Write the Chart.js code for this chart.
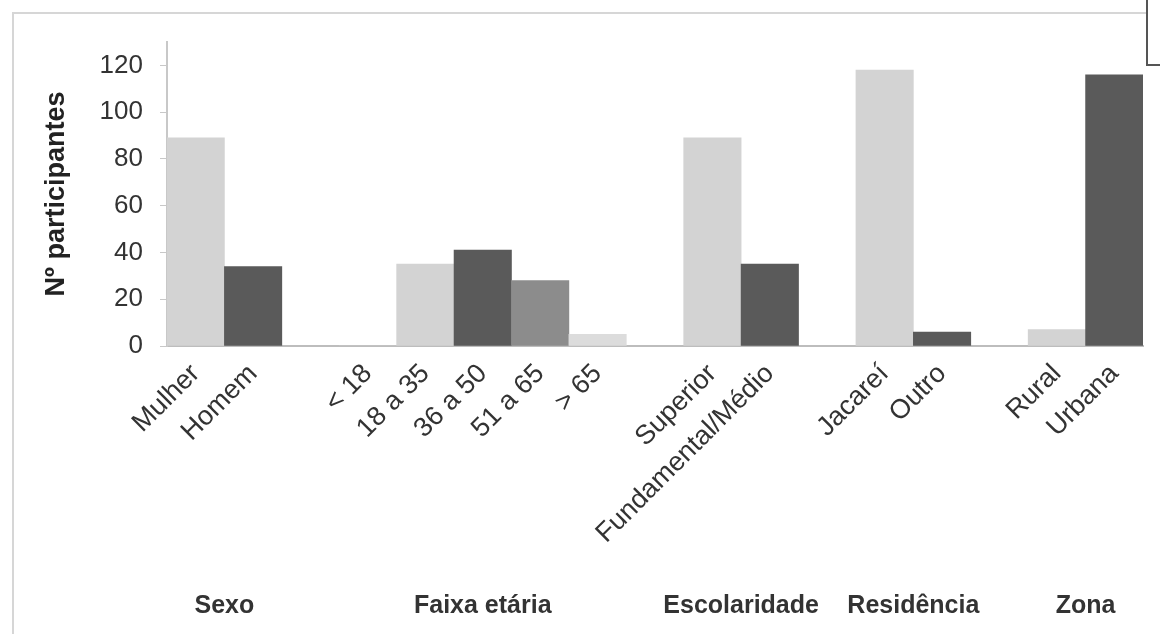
<!DOCTYPE html>
<html lang="pt-BR">
<head>
  <meta charset="UTF-8" />
  <title>Perfil dos participantes</title>
  <script src="https://cdn.jsdelivr.net/npm/chart.js"></script>
  <style>
    body {
      margin: 0;
      background: #fff;
      overflow: hidden;
    }

    #moldura {
      position: absolute;
      left: 12px;
      top: 12px;
      width: 1200px;
      height: 700px;
      border: 2px solid #d6d6d6; /* borda cinza clara do gráfico */
    }

    #legenda {
      position: absolute;
      left: 1146px;
      top: -4px;
      width: 40px;
      height: 66px;
      border: 2px solid #555;
      background: #fff;
    }

    #grafico {
      position: absolute;
      left: 0;
      top: 0;
    }
  </style>
</head>
<body>
  <div id="moldura"></div>
  <div id="legenda"></div>
  <canvas id="grafico" width="1160" height="634"></canvas>

  <script>
    // categorias (vazias = espaço entre grupos)
    const categorias = ['Mulher', 'Homem', '',
      '< 18', '18 a 35', '36 a 50', '51 a 65', '> 65', '',
      'Superior', 'Fundamental/Médio', '',
      'Jacareí', 'Outro', '',
      'Rural', 'Urbana'];
    const participantes = [89, 34, null,
      0, 35, 41, 28, 5, null,
      89, 35, null,
      118, 6, null,
      7, 116];
    const grupos = ['Sexo', 'Faixa etária', 'Escolaridade', 'Residência', 'Zona'];
    const grupoDe = [0, 0, null, 1, 1, 1, 1, 1, null, 2, 2, null, 3, 3, null, 4, 4];
    const ticksY = [0, 20, 40, 60, 80, 100, 120];

    const claro = '#d3d3d3';
    const escuro = '#5a5a5a';
    const medio = '#8c8c8c';
    const cores = [claro, escuro, claro,
      claro, claro, escuro, medio, '#dcdcdc', claro,
      claro, escuro, claro,
      claro, escuro, claro,
      claro, escuro];

    const fonte = '"Liberation Sans", Arial, sans-serif';

    // desenha os nomes dos grupos abaixo dos rótulos
    const rotulosGrupo = {
      id: 'rotulosGrupo',
      afterDraw(chart) {
        const ctx = chart.ctx;
        const x = chart.scales.x;
        ctx.save();
        ctx.font = 'bold 25px ' + fonte;
        ctx.fillStyle = '#333';
        ctx.textAlign = 'center';
        ctx.textBaseline = 'middle';
        grupos.forEach((nome, g) => {
          const idx = [];
          grupoDe.forEach((v, i) => { if (v === g) idx.push(i); });
          const centro = (x.getPixelForValue(idx[0]) + x.getPixelForValue(idx[idx.length - 1])) / 2;
          ctx.fillText(nome, centro, 606);
        });
        ctx.restore();
      }
    };

    new Chart(document.getElementById('grafico'), {
      type: 'bar',
      data: {
        labels: categorias,
        datasets: [{
          data: participantes,
          backgroundColor: cores,
          borderWidth: 0,
          barPercentage: 1,
          categoryPercentage: 1
        }]
      },
      options: {
        responsive: false,
        animation: false,
        layout: {
          padding: { left: 30, right: 17, top: 42, bottom: 0 }
        },
        plugins: {
          legend: { display: false },
          tooltip: { enabled: false }
        },
        scales: {
          x: {
            grid: { display: false, drawTicks: false },
            border: { display: true, color: '#bdbdbd', width: 2 },
            ticks: {
              autoSkip: false,
              minRotation: 45,
              maxRotation: 45,
              padding: 12,
              color: '#333',
              font: { family: fonte, size: 27 }
            },
            afterFit(scale) { scale.height = 288; }
          },
          y: {
            min: 0,
            max: 130,
            grid: { drawOnChartArea: false, drawTicks: true, tickLength: 7, color: '#c8c8c8' },
            border: { display: true, color: '#c8c8c8', width: 2 },
            ticks: {
              stepSize: 20,
              padding: 17,
              color: '#333',
              font: { family: fonte, size: 26 }
            },
            afterBuildTicks(scale) {
              scale.ticks = ticksY.map(v => ({ value: v }));
            },
            afterFit(scale) { scale.width = 137; },
            title: {
              display: true,
              text: 'Nº participantes',
              color: '#222',
              padding: { top: 10, bottom: 0 },
              font: { family: fonte, size: 27, weight: 'bold' }
            }
          }
        }
      },
      plugins: [rotulosGrupo]
    });
  </script>
</body>
</html>
